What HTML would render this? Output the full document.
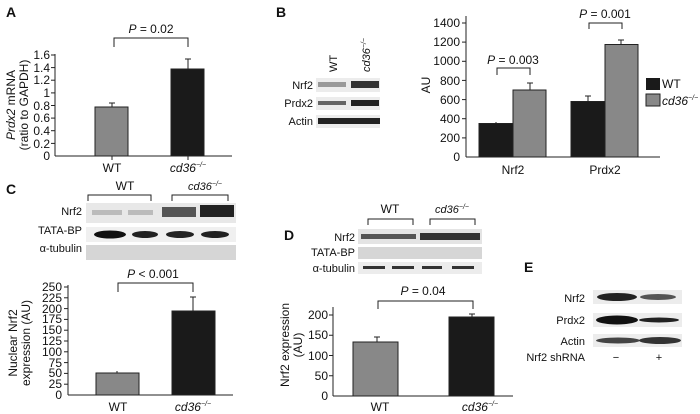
<!DOCTYPE html>
<html><head><style>
body{margin:0;background:#fff}
svg{display:block;font-family:"Liberation Sans",Arial,sans-serif}
</style></head><body>
<svg width="700" height="414" viewBox="0 0 700 414" xmlns="http://www.w3.org/2000/svg">
<g font-size="11" fill="#111">
<!-- Panel A -->
<text x="6" y="17" font-size="14" font-weight="bold">A</text>
<g stroke="#222" stroke-width="1" fill="none">
<line x1="55" y1="54" x2="55" y2="156"/><line x1="55" y1="156" x2="232" y2="156"/>
<line x1="51" y1="55" x2="55" y2="55"/><line x1="51" y1="67.6" x2="55" y2="67.6"/><line x1="51" y1="80.2" x2="55" y2="80.2"/><line x1="51" y1="92.9" x2="55" y2="92.9"/><line x1="51" y1="105.5" x2="55" y2="105.5"/><line x1="51" y1="118.1" x2="55" y2="118.1"/><line x1="51" y1="130.7" x2="55" y2="130.7"/><line x1="51" y1="143.4" x2="55" y2="143.4"/>
<line x1="112" y1="156" x2="112" y2="160"/><line x1="188" y1="156" x2="188" y2="160"/>
<polyline points="114,47 114,38 188,38 188,47"/>
<line x1="112" y1="107" x2="112" y2="103"/><line x1="109" y1="103" x2="115" y2="103"/>
<line x1="188" y1="69" x2="188" y2="59"/><line x1="185" y1="59" x2="191" y2="59"/>
</g>
<rect x="95" y="107" width="33" height="49" fill="#888" stroke="#222"/>
<rect x="171" y="69" width="33" height="87" fill="#1a1a1a" stroke="#222"/>
<g text-anchor="end" font-size="12"><text x="50" y="59">1.6</text><text x="50" y="72">1.4</text><text x="50" y="84">1.2</text><text x="50" y="97">1</text><text x="50" y="110">0.8</text><text x="50" y="122">0.6</text><text x="50" y="135">0.4</text><text x="50" y="148">0.2</text><text x="50" y="160">0</text></g>
<text x="151" y="33" text-anchor="middle" font-size="12"><tspan font-style="italic">P</tspan> = 0.02</text>
<text x="112" y="172" text-anchor="middle" font-size="12">WT</text>
<text x="188" y="172" text-anchor="middle" font-size="12" font-style="italic">cd36<tspan font-size="7" dy="-5">−/−</tspan></text>
<text transform="translate(15,105) rotate(-90)" text-anchor="middle" font-size="12"><tspan font-style="italic">Prdx2</tspan> mRNA</text>
<text transform="translate(28,105) rotate(-90)" text-anchor="middle" font-size="12">(ratio to GAPDH)</text>

<!-- Panel B blot -->
<text x="276" y="17" font-size="14" font-weight="bold">B</text>
<text transform="translate(337,72) rotate(-90)" font-size="11">WT</text>
<text transform="translate(370,72) rotate(-90)" font-size="11" font-style="italic">cd36<tspan font-size="7" dy="-4">−/−</tspan></text>
<g text-anchor="end"><text x="313" y="89">Nrf2</text><text x="313" y="107">Prdx2</text><text x="313" y="125">Actin</text></g>
<rect x="316" y="78" width="64" height="14" fill="#ececec"/>
<rect x="318" y="82" width="28" height="5" fill="#999"/><rect x="351" y="81" width="28" height="7" fill="#333"/>
<rect x="316" y="97" width="64" height="13" fill="#ececec"/>
<rect x="318" y="101" width="28" height="4" fill="#666"/><rect x="351" y="100" width="28" height="6" fill="#222"/>
<rect x="316" y="115" width="64" height="13" fill="#ececec"/>
<rect x="318" y="118" width="62" height="6" fill="#222"/>

<!-- Panel B chart -->
<g stroke="#222" stroke-width="1" fill="none">
<line x1="466" y1="16" x2="466" y2="157"/><line x1="466" y1="157" x2="660" y2="157"/>
<line x1="462" y1="23" x2="466" y2="23"/><line x1="462" y1="42.1" x2="466" y2="42.1"/><line x1="462" y1="61.3" x2="466" y2="61.3"/><line x1="462" y1="80.4" x2="466" y2="80.4"/><line x1="462" y1="99.6" x2="466" y2="99.6"/><line x1="462" y1="118.7" x2="466" y2="118.7"/><line x1="462" y1="137.9" x2="466" y2="137.9"/>
<polyline points="497,75 497,68 530,68 530,75"/>
<polyline points="589,29 589,23 622,23 622,29"/>
<line x1="496" y1="123" x2="496" y2="122"/><line x1="530" y1="90" x2="530" y2="83"/><line x1="527" y1="83" x2="533" y2="83"/>
<line x1="588" y1="101" x2="588" y2="96"/><line x1="585" y1="96" x2="591" y2="96"/>
<line x1="621" y1="45" x2="621" y2="40"/><line x1="618" y1="40" x2="624" y2="40"/>
</g>
<rect x="479" y="123.5" width="34" height="33.5" fill="#1a1a1a" stroke="#222"/>
<rect x="513" y="90" width="33" height="67" fill="#888" stroke="#222"/>
<rect x="571" y="101.5" width="34" height="55.5" fill="#1a1a1a" stroke="#222"/>
<rect x="605" y="44.5" width="33" height="112.5" fill="#888" stroke="#222"/>
<g text-anchor="end" font-size="12"><text x="460" y="27">1400</text><text x="460" y="46">1200</text><text x="460" y="65">1000</text><text x="460" y="85">800</text><text x="460" y="104">600</text><text x="460" y="123">400</text><text x="460" y="142">200</text><text x="460" y="161">0</text></g>
<text x="513" y="64" text-anchor="middle" font-size="12"><tspan font-style="italic">P</tspan> = 0.003</text>
<text x="605" y="18" text-anchor="middle" font-size="12"><tspan font-style="italic">P</tspan> = 0.001</text>
<text x="513" y="174" text-anchor="middle" font-size="12">Nrf2</text>
<text x="605" y="174" text-anchor="middle" font-size="12">Prdx2</text>
<text transform="translate(430,85) rotate(-90)" text-anchor="middle" font-size="12">AU</text>
<rect x="646" y="78" width="14" height="12" fill="#1a1a1a"/><rect x="646" y="94" width="14" height="12" fill="#888" stroke="#222"/>
<text x="662" y="88" font-size="12">WT</text>
<text x="662" y="105" font-size="12" font-style="italic">cd36<tspan font-size="7" dy="-5">−/−</tspan></text>

<!-- Panel C -->
<text x="6" y="194" font-size="14" font-weight="bold">C</text>
<text x="125" y="190" text-anchor="middle" font-size="12">WT</text>
<text x="205" y="190" text-anchor="middle" font-size="11" font-style="italic">cd36<tspan font-size="7" dy="-4">−/−</tspan></text>
<g stroke="#222" fill="none"><polyline points="88,201 88,195 151,195 151,201"/><polyline points="172,201 172,195 228,195 228,201"/></g>
<g text-anchor="end"><text x="82" y="215">Nrf2</text><text x="82" y="234">TATA-BP</text><text x="82" y="252">α-tubulin</text></g>
<rect x="86" y="203" width="150" height="20" fill="#e8e8e8"/>
<rect x="92" y="210" width="30" height="5" fill="#bbb"/><rect x="128" y="210" width="25" height="5" fill="#bbb"/>
<rect x="162" y="207" width="34" height="10" fill="#555"/><rect x="200" y="205" width="34" height="12" fill="#222"/>
<rect x="86" y="227" width="150" height="15" fill="#f0f0f0"/>
<ellipse cx="110" cy="234.5" rx="16" ry="4" fill="#111"/><ellipse cx="145" cy="234.5" rx="13" ry="3.5" fill="#222"/><ellipse cx="180" cy="234.5" rx="14" ry="3.5" fill="#222"/><ellipse cx="215" cy="234.5" rx="14" ry="3.5" fill="#222"/>
<rect x="86" y="245" width="150" height="15" fill="#d6d6d6"/>
<g stroke="#222" fill="none">
<line x1="68" y1="285" x2="68" y2="395"/><line x1="68" y1="395" x2="233" y2="395"/>
<line x1="64" y1="287" x2="68" y2="287"/><line x1="64" y1="297.8" x2="68" y2="297.8"/><line x1="64" y1="308.6" x2="68" y2="308.6"/><line x1="64" y1="319.4" x2="68" y2="319.4"/><line x1="64" y1="330.2" x2="68" y2="330.2"/><line x1="64" y1="341" x2="68" y2="341"/><line x1="64" y1="351.8" x2="68" y2="351.8"/><line x1="64" y1="362.6" x2="68" y2="362.6"/><line x1="64" y1="373.4" x2="68" y2="373.4"/><line x1="64" y1="384.2" x2="68" y2="384.2"/>
<polyline points="118,292 118,283 193,283 193,292"/>
<line x1="193" y1="311" x2="193" y2="297"/><line x1="190" y1="297" x2="196" y2="297"/>
<line x1="117" y1="373" x2="117" y2="371"/>
</g>
<rect x="96" y="373" width="43" height="22" fill="#888" stroke="#222"/>
<rect x="172" y="311" width="43" height="84" fill="#1a1a1a" stroke="#222"/>
<g text-anchor="end" font-size="12"><text x="62" y="291">250</text><text x="62" y="302">225</text><text x="62" y="313">200</text><text x="62" y="323">175</text><text x="62" y="334">150</text><text x="62" y="345">125</text><text x="62" y="356">100</text><text x="62" y="367">75</text><text x="62" y="377">50</text><text x="62" y="388">25</text><text x="62" y="399">0</text></g>
<text x="153" y="278" text-anchor="middle" font-size="12"><tspan font-style="italic">P</tspan> &lt; 0.001</text>
<text x="118" y="411" text-anchor="middle" font-size="12">WT</text>
<text x="193" y="411" text-anchor="middle" font-size="12" font-style="italic">cd36<tspan font-size="7" dy="-5">−/−</tspan></text>
<text transform="translate(17,343) rotate(-90)" text-anchor="middle" font-size="12">Nuclear Nrf2</text>
<text transform="translate(30,343) rotate(-90)" text-anchor="middle" font-size="12">expression (AU)</text>

<!-- Panel D -->
<text x="284" y="240" font-size="14" font-weight="bold">D</text>
<text x="390" y="213" text-anchor="middle" font-size="12">WT</text>
<text x="452" y="213" text-anchor="middle" font-size="11" font-style="italic">cd36<tspan font-size="7" dy="-4">−/−</tspan></text>
<g stroke="#222" fill="none"><polyline points="368,225 368,219 413,219 413,225"/><polyline points="430,225 430,219 475,219 475,225"/></g>
<g text-anchor="end"><text x="355" y="241">Nrf2</text><text x="355" y="256">TATA-BP</text><text x="355" y="272">α-tubulin</text></g>
<rect x="358" y="229" width="124" height="15" fill="#e4e4e4"/>
<rect x="361" y="234" width="55" height="5" fill="#555"/><rect x="420" y="233" width="60" height="7" fill="#333"/>
<rect x="358" y="247" width="124" height="12" fill="#d6d6d6"/>
<rect x="358" y="262" width="124" height="12" fill="#ececec"/>
<rect x="363" y="266" width="22" height="3" fill="#333"/><rect x="392" y="266" width="22" height="3" fill="#333"/><rect x="422" y="266" width="20" height="3" fill="#333"/><rect x="452" y="266" width="22" height="3" fill="#333"/>
<g stroke="#222" fill="none">
<line x1="333" y1="307" x2="333" y2="396"/><line x1="333" y1="396" x2="513" y2="396"/>
<line x1="329" y1="315" x2="333" y2="315"/><line x1="329" y1="335.25" x2="333" y2="335.25"/><line x1="329" y1="355.5" x2="333" y2="355.5"/><line x1="329" y1="375.75" x2="333" y2="375.75"/>
<polyline points="378,309 378,301 473,301 473,309"/>
<line x1="377" y1="342" x2="377" y2="337"/><line x1="374" y1="337" x2="380" y2="337"/>
<line x1="472" y1="317" x2="472" y2="314"/><line x1="469" y1="314" x2="475" y2="314"/>
</g>
<rect x="353" y="342" width="45" height="54" fill="#888" stroke="#222"/>
<rect x="449" y="317" width="45" height="79" fill="#1a1a1a" stroke="#222"/>
<g text-anchor="end" font-size="12"><text x="328" y="319">200</text><text x="328" y="339">150</text><text x="328" y="360">100</text><text x="328" y="380">50</text><text x="328" y="400">0</text></g>
<text x="423" y="295" text-anchor="middle" font-size="12"><tspan font-style="italic">P</tspan> = 0.04</text>
<text x="380" y="411" text-anchor="middle" font-size="12">WT</text>
<text x="480" y="411" text-anchor="middle" font-size="12" font-style="italic">cd36<tspan font-size="7" dy="-5">−/−</tspan></text>
<text transform="translate(289,345) rotate(-90)" text-anchor="middle" font-size="12">Nrf2 expression</text>
<text transform="translate(302,345) rotate(-90)" text-anchor="middle" font-size="12">(AU)</text>

<!-- Panel E -->
<text x="524" y="272" font-size="14" font-weight="bold">E</text>
<g text-anchor="end"><text x="585" y="302">Nrf2</text><text x="585" y="324">Prdx2</text><text x="585" y="345">Actin</text><text x="585" y="361">Nrf2 shRNA</text></g>
<rect x="593" y="290" width="89" height="14" fill="#ececec"/>
<ellipse cx="617" cy="297" rx="20" ry="4" fill="#222"/><ellipse cx="658" cy="297" rx="18" ry="3" fill="#555"/>
<rect x="593" y="313" width="89" height="14" fill="#ececec"/>
<ellipse cx="617" cy="320" rx="21" ry="4.5" fill="#111"/><ellipse cx="659" cy="320" rx="20" ry="2.5" fill="#222"/>
<rect x="593" y="334" width="89" height="13" fill="#ececec"/>
<ellipse cx="618" cy="340.5" rx="22" ry="3" fill="#444"/><ellipse cx="660" cy="340.5" rx="21" ry="3.5" fill="#333"/>
<text x="616" y="361" text-anchor="middle">−</text><text x="659" y="361" text-anchor="middle">+</text>
</g>
</svg>
</body></html>
